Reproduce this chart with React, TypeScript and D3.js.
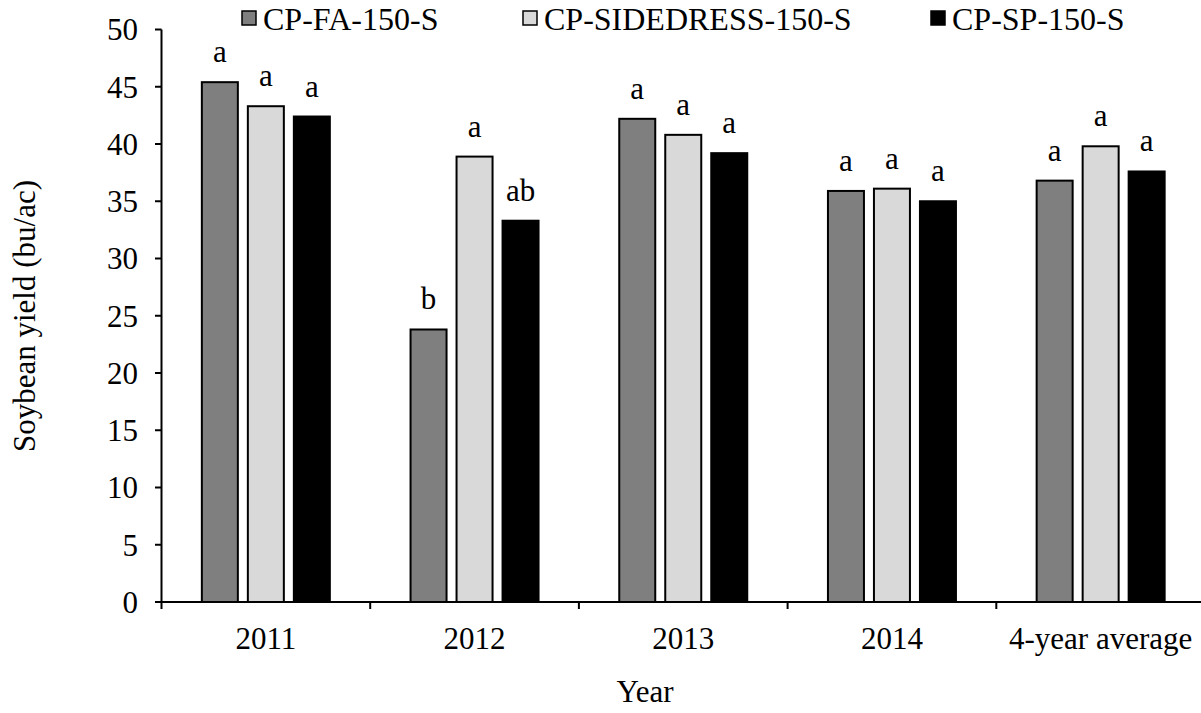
import React from 'react';
import * as d3 from 'd3';

const categories = ['2011', '2012', '2013', '2014', '4-year average'];
const seriesNames = ['CP-FA-150-S', 'CP-SIDEDRESS-150-S', 'CP-SP-150-S'];
const faValues = [45.4, 23.8, 42.2, 35.9, 36.8];
const sidedressValues = [43.3, 38.9, 40.8, 36.1, 39.8];
const spValues = [42.4, 33.3, 39.2, 35.0, 37.6];
const faLetters = ['a', 'b', 'a', 'a', 'a'];
const sidedressLetters = ['a', 'a', 'a', 'a', 'a'];
const spLetters = ['a', 'ab', 'a', 'a', 'a'];
const yTicks = [0, 5, 10, 15, 20, 25, 30, 35, 40, 45, 50];

const colors = ['#7f7f7f', '#d9d9d9', '#000000'];
const font = "'Times New Roman', 'Liberation Serif', 'DejaVu Serif', serif";

const W = 1201;
const H = 713;

export default function App() {
  const values = [faValues, sidedressValues, spValues];
  const letters = [faLetters, sidedressLetters, spLetters];

  const x = d3.scaleBand<string>().domain(categories).range([161.5, 1205]).padding(0);
  const offset = d3.scalePoint<string>().domain(seriesNames).range([-46, 46]);
  const y = d3.scaleLinear().domain([0, 50]).range([602, 29.5]);
  const barW = 36;

  // legend swatch positions
  const legendX = [242, 523, 931];

  const boundaries = categories.map(c => x(c)!);

  return (
    <svg width={W} height={H} style={{ position: 'absolute', left: 0, top: 0, background: '#fff', fontFamily: font }}>
      {/* legend */}
      {seriesNames.map((s, i) => (
        <g key={s}>
          <rect x={legendX[i]} y={11} width={14} height={14} fill={colors[i]} stroke="#000" strokeWidth={1.5} />
          <text x={legendX[i] + 21} y={30} fontSize={32}>{s}</text>
        </g>
      ))}

      {/* bars */}
      {seriesNames.map((s, si) =>
        categories.map((c, ci) => {
          const cx = x(c)! + x.bandwidth() / 2 + offset(s)!;
          const v = values[si][ci];
          return (
            <g key={s + c}>
              <rect x={cx - barW / 2} y={y(v)} width={barW} height={y(0) - y(v)}
                fill={colors[si]} stroke="#000" strokeWidth={2} />
              <text x={cx} y={y(v) - 20} fontSize={31} textAnchor="middle">{letters[si][ci]}</text>
            </g>
          );
        })
      )}

      {/* y axis */}
      <line x1={161.5} x2={161.5} y1={y(50)} y2={y(0) + 1} stroke="#000" strokeWidth={2} />
      {yTicks.map(t => (
        <g key={t}>
          <line x1={155} x2={161.5} y1={y(t)} y2={y(t)} stroke="#000" strokeWidth={2} />
          <text x={138} y={y(t)} dy="0.35em" fontSize={31} textAnchor="end">{t}</text>
        </g>
      ))}

      {/* x axis */}
      <line x1={160.5} x2={W} y1={y(0)} y2={y(0)} stroke="#000" strokeWidth={2} />
      {boundaries.map((b, i) => (
        <line key={i} x1={b} x2={b} y1={y(0)} y2={y(0) + 7} stroke="#000" strokeWidth={2} />
      ))}
      {categories.map(c => (
        <text key={c} x={x(c)! + x.bandwidth() / 2} y={649} fontSize={31} textAnchor="middle">{c}</text>
      ))}

      {/* axis titles */}
      <text x={645} y={702} fontSize={31} textAnchor="middle">Year</text>
      <text transform="translate(35,316) rotate(-90)" fontSize={31} textAnchor="middle">Soybean yield (bu/ac)</text>
    </svg>
  );
}
